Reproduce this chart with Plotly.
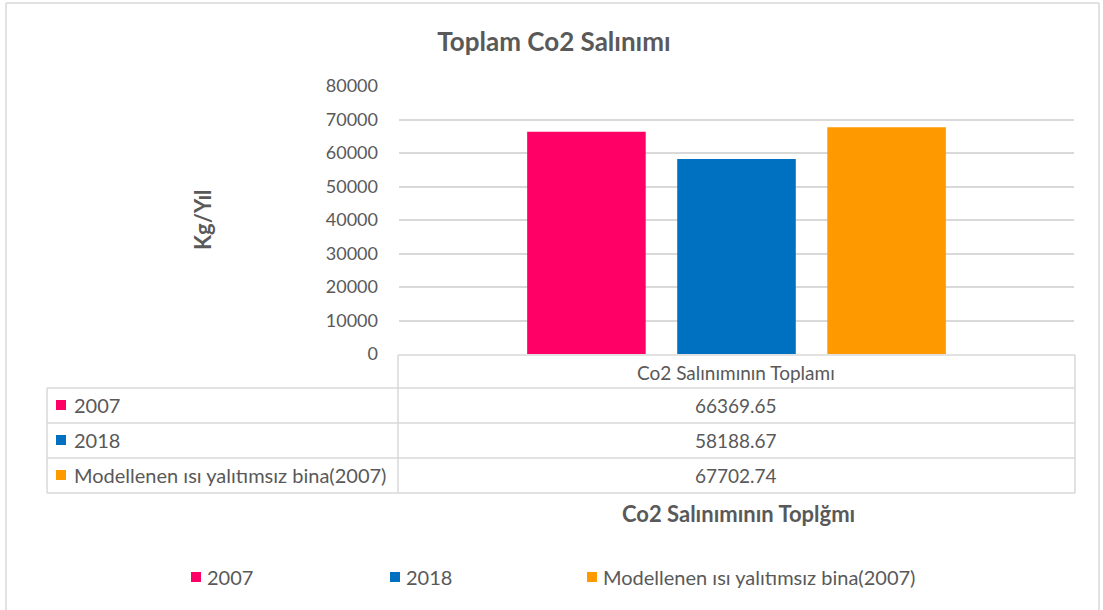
import plotly.graph_objects as go

# Data
category = ["Co2 Salınımının Toplamı"]
series_names = ["2007", "2018", "Modellenen ısı yalıtımsız bina(2007)"]
series_values = [66369.65, 58188.67, 67702.74]
series_colors = ["#FF0066", "#0070C0", "#FF9900"]
y_ticks = [0, 10000, 20000, 30000, 40000, 50000, 60000, 70000, 80000]

W, H = 1103, 610
FONT = "Lato"
TXT = "#595959"
GRID = "#D9D9D9"


def px(x):
    return x / W


def py(y):
    return 1 - y / H


def label(x, y, text, size, xanchor="center", angle=0):
    return dict(xref="paper", yref="paper", x=px(x), y=py(y),
                xanchor=xanchor, yanchor="middle", text=text,
                showarrow=False, textangle=angle,
                font=dict(family=FONT, size=size, color=TXT))


fig = go.Figure()
for name, val, col in zip(series_names, series_values, series_colors):
    fig.add_trace(go.Bar(
        x=category, y=[val], name=name,
        marker=dict(color=col, line=dict(width=0)),
        showlegend=False,
    ))

shapes = []
annotations = []

# outer chart border (top, left, right)
for x0, y0, x1, y1 in [(6, 3, 1099, 3), (6, 3, 6, 612), (1099, 3, 1099, 612)]:
    shapes.append(dict(type="line", xref="paper", yref="paper",
                       x0=px(x0), y0=py(y0), x1=px(x1), y1=py(y1),
                       line=dict(color=GRID, width=1.5)))

# data table grid
tbl_left, col_split, tbl_right = 47, 398, 1075
row_lines = [355, 388, 423, 458, 493]
for i, yl in enumerate(row_lines):
    x0 = col_split if i == 0 else tbl_left
    shapes.append(dict(type="line", xref="paper", yref="paper",
                       x0=px(x0), y0=py(yl), x1=px(tbl_right), y1=py(yl),
                       line=dict(color=GRID, width=1.5)))
for xl, ytop in [(tbl_left, 388), (col_split, 355), (tbl_right, 355)]:
    shapes.append(dict(type="line", xref="paper", yref="paper",
                       x0=px(xl), y0=py(ytop), x1=px(xl), y1=py(493),
                       line=dict(color=GRID, width=1.5)))

# header cell
annotations.append(label(736, 372, category[0], 19))

row_centers = [405, 440, 475]
for name, val, col, yc in zip(series_names, series_values, series_colors, row_centers):
    shapes.append(dict(type="rect", xref="paper", yref="paper",
                       x0=px(56), x1=px(66), y0=py(yc + 5), y1=py(yc - 5),
                       fillcolor=col, line=dict(width=0)))
    annotations.append(label(72, yc, name, 20, xanchor="left"))
    annotations.append(label(736, yc, f"{val:.2f}", 19))

# axis titles
annotations.append(label(738, 513, "<b>Co2 Salınımının Toplğmı</b>", 22))
annotations.append(label(203, 220, "<b>Kg/Yıl</b>", 22, angle=-90))

# legend
legend_x = [191, 390, 587]
for name, col, lx in zip(series_names, series_colors, legend_x):
    shapes.append(dict(type="rect", xref="paper", yref="paper",
                       x0=px(lx), x1=px(lx + 10), y0=py(577 + 5), y1=py(577 - 5),
                       fillcolor=col, line=dict(width=0)))
    annotations.append(label(lx + 14, 577, name, 20, xanchor="left"))

fig.update_layout(
    width=W, height=H,
    margin=dict(l=0, r=0, t=0, b=0, pad=0, autoexpand=False),
    paper_bgcolor="white", plot_bgcolor="white",
    title=dict(text="<b>Toplam Co2 Salınımı</b>", x=px(554), xanchor="center",
               y=py(42), yanchor="middle",
               font=dict(family=FONT, size=26, color=TXT)),
    barmode="group", bargap=0.333, bargroupgap=0.21,
    xaxis=dict(domain=[px(399), px(1074)], showticklabels=False,
               showgrid=False, zeroline=False, showline=False, ticks="",
               automargin=False),
    yaxis=dict(domain=[py(354), py(86)], range=[0, 80000],
               tickvals=y_ticks, tickformat="d",
               showgrid=True, gridcolor=GRID, gridwidth=1.5,
               zeroline=False, showline=False, ticks="",
               ticklabelstandoff=20, automargin=False,
               tickfont=dict(family=FONT, size=18, color=TXT)),
    shapes=shapes, annotations=annotations,
)

fig.write_html("out.html")
